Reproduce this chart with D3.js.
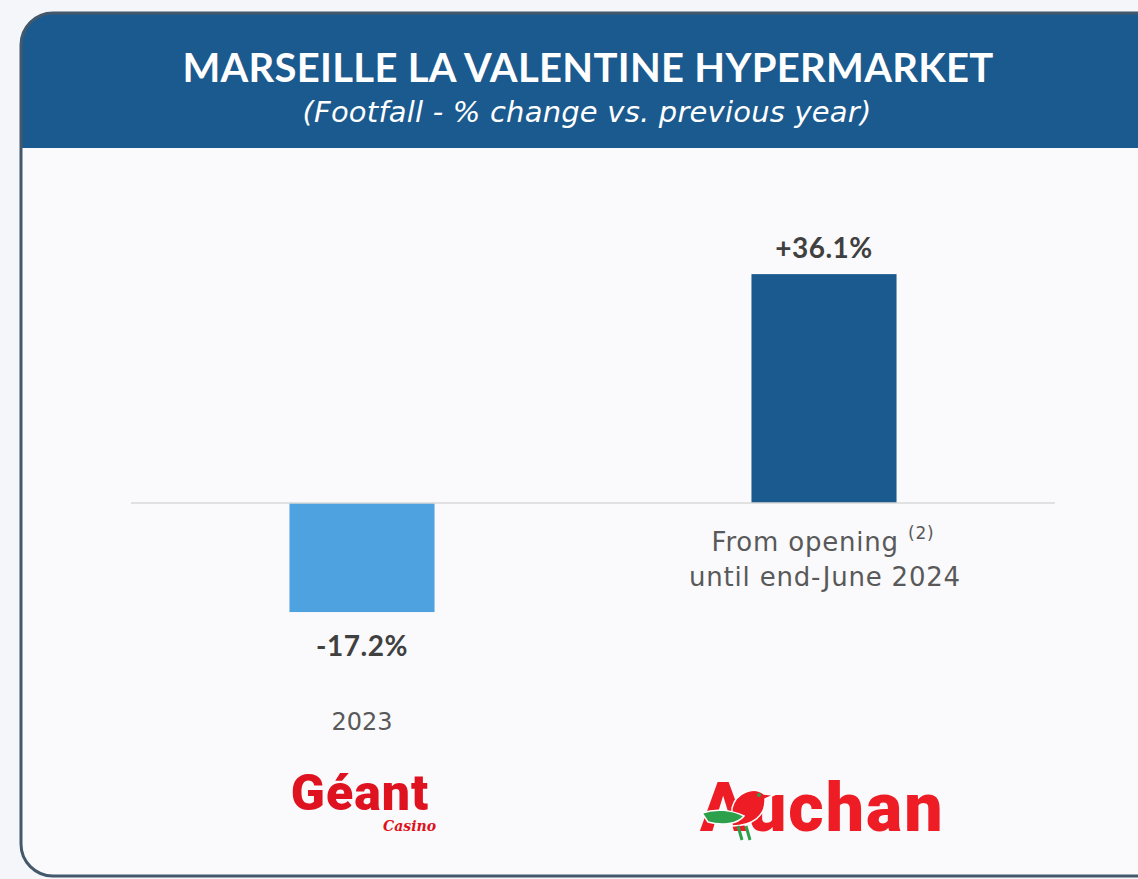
<!DOCTYPE html>
<html>
<head>
<meta charset="utf-8">
<script src="https://cdn.jsdelivr.net/npm/d3@7"></script>
<style>
  body { margin: 0; background: #f5f6f9; }
  svg { display: block; }
</style>
</head>
<body>
<div id="chart"></div>
<script>
// chart data
let categories = ['2023', 'From opening'];
let values = [-17.2, 36.1];
let valueLabels = ['-17.2%', '+36.1%'];
let barColors = ['#4fa2e0', '#1b5a8e'];

let width = 1138,
  height = 879;

let svg = d3.select('#chart')
  .append('svg')
  .attr('width', width)
  .attr('height', height);

// card with rounded corners, right side runs off the page
let clip = svg.append('clipPath').attr('id', 'card');
clip.append('rect')
  .attr('x', 21).attr('y', 13)
  .attr('width', 1160).attr('height', 863)
  .attr('rx', 32).attr('ry', 32);

svg.append('rect')
  .attr('x', 21).attr('y', 13)
  .attr('width', 1160).attr('height', 863)
  .attr('rx', 32).attr('ry', 32)
  .style('fill', '#fafafc');

// blue header
svg.append('rect')
  .attr('clip-path', 'url(#card)')
  .attr('x', 0).attr('y', 0)
  .attr('width', width).attr('height', 148)
  .style('fill', '#1b5a8e');

svg.append('rect')
  .attr('x', 21).attr('y', 13)
  .attr('width', 1160).attr('height', 863)
  .attr('rx', 32).attr('ry', 32)
  .style('fill', 'none')
  .style('stroke', '#44586b')
  .style('stroke-width', 3);

svg.append('text')
  .attr('x', 588).attr('y', 82)
  .attr('text-anchor', 'middle')
  .style('font-family', 'Lato, sans-serif')
  .style('font-weight', 'bold')
  .style('font-size', '40px')
  .style('letter-spacing', '0.3px')
  .style('fill', '#ffffff')
  .text('MARSEILLE LA VALENTINE HYPERMARKET');

svg.append('text')
  .attr('x', 587).attr('y', 122)
  .attr('text-anchor', 'middle')
  .style('font-family', '"DejaVu Sans", sans-serif')
  .style('font-style', 'italic')
  .style('font-size', '29px')
  .style('letter-spacing', '0.2px')
  .style('fill', '#ffffff')
  .text('(Footfall - % change vs. previous year)');

// scales: zero line sits at 503
let x = d3.scaleBand()
  .domain(categories)
  .range([131, 1055])
  .paddingInner(0.686)
  .paddingOuter(0.343);

let y = d3.scaleLinear()
  .domain([-30, 45])
  .range([693.2, 217.7]);

svg.selectAll('.bar')
  .data(values)
  .enter()
  .append('rect')
  .attr('class', 'bar')
  .attr('x', function (d, i) { return x(categories[i]); })
  .attr('y', function (d) { return Math.min(y(d), y(0)); })
  .attr('width', x.bandwidth())
  .attr('height', function (d) { return Math.abs(y(d) - y(0)); })
  .style('fill', function (d, i) { return barColors[i]; });

// zero line
svg.append('line')
  .attr('x1', 131).attr('x2', 1055)
  .attr('y1', y(0)).attr('y2', y(0))
  .style('stroke', '#d9d9d9')
  .style('stroke-width', 1.5);

// value labels
svg.selectAll('.val')
  .data(values)
  .enter()
  .append('text')
  .attr('class', 'val')
  .attr('x', function (d, i) { return x(categories[i]) + x.bandwidth() / 2; })
  .attr('y', function (d) { return d < 0 ? y(d) + 44 : y(d) - 16; })
  .attr('text-anchor', 'middle')
  .style('font-family', 'Lato, sans-serif')
  .style('font-weight', 'bold')
  .style('font-size', '28px')
  .style('letter-spacing', '0.5px')
  .style('fill', '#404040')
  .text(function (d, i) { return valueLabels[i]; });

// category labels
let cx1 = x(categories[0]) + x.bandwidth() / 2;
let cx2 = x(categories[1]) + x.bandwidth() / 2;

svg.append('text')
  .attr('x', cx1).attr('y', 730)
  .attr('text-anchor', 'middle')
  .style('font-family', '"DejaVu Sans", sans-serif')
  .style('font-size', '24px')
  .style('fill', '#595959')
  .text(categories[0]);

let lbl = svg.append('text')
  .attr('x', cx2 - 1).attr('y', 551)
  .attr('text-anchor', 'middle')
  .style('font-family', '"DejaVu Sans", sans-serif')
  .style('font-size', '26px')
  .style('letter-spacing', '0.8px')
  .style('fill', '#595959');
lbl.append('tspan').text(categories[1] + ' ');
lbl.append('tspan')
  .attr('dy', -12)
  .style('font-size', '17px')
  .text('(2)');

svg.append('text')
  .attr('x', cx2 + 1).attr('y', 586)
  .attr('text-anchor', 'middle')
  .style('font-family', '"DejaVu Sans", sans-serif')
  .style('font-size', '26px')
  .style('letter-spacing', '0.8px')
  .style('fill', '#595959')
  .text('until end-June 2024');

// logos as text
svg.append('text')
  .attr('x', cx1 - 2).attr('y', 810)
  .attr('text-anchor', 'middle')
  .style('font-family', 'Roboto, sans-serif')
  .style('font-weight', '900')
  .style('font-size', '50px')
  .style('letter-spacing', '1px')
  .style('fill', '#df1220')
  .text('Géant');

svg.append('text')
  .attr('x', 436).attr('y', 831)
  .attr('text-anchor', 'end')
  .style('font-family', '"DejaVu Serif", serif')
  .style('font-style', 'italic')
  .style('font-weight', 'bold')
  .style('font-size', '14px')
  .style('fill', '#df1220')
  .text('Casino');

svg.append('text')
  .attr('x', 700).attr('y', 831)
  .style('font-family', 'Roboto, sans-serif')
  .style('font-weight', '900')
  .style('font-size', '68px')
  .style('letter-spacing', '2px')
  .style('fill', '#ee1c24')
  .text('Auchan');

// little bird on the A
let bird = svg.append('g').attr('transform', 'translate(702, 782)');
bird.append('path')
  .attr('d', 'M30,26 C34,10 52,4 62,12 L72,13 L63,17 C64,34 50,44 30,44 Z')
  .style('fill', '#ee1c24')
  .style('stroke', '#ffffff')
  .style('stroke-width', 1.5);
bird.append('path')
  .attr('d', 'M0,31 C14,26 30,28 42,34 C36,42 20,44 6,40 Z')
  .style('fill', '#2ca04a')
  .style('stroke', '#ffffff')
  .style('stroke-width', 1.5);
bird.append('path')
  .attr('d', 'M36,44 L40,58 M44,44 L48,58')
  .style('stroke', '#2ca04a')
  .style('stroke-width', 3);
bird.append('circle')
  .attr('cx', 57).attr('cy', 13).attr('r', 2)
  .style('fill', '#2ca04a');
</script>
</body>
</html>
